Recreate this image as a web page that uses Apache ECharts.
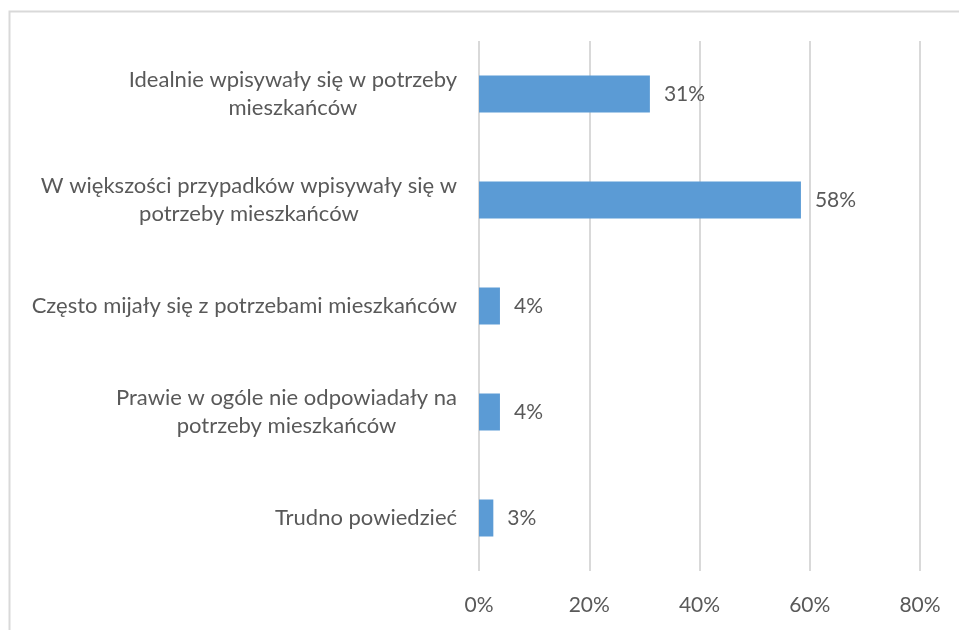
<!DOCTYPE html>
<html>
<head>
<meta charset="utf-8">
<script src="https://cdn.jsdelivr.net/npm/echarts@6/dist/echarts.min.js"></script>
<style>html,body{margin:0;padding:0;background:#fff}#c{width:959px;height:630px}</style>
</head>
<body>
<div id="c"></div>
<script>
const categories = [
  "Idealnie wpisywały się w potrzeby\nmieszkańców",
  "W większości przypadków wpisywały się w\npotrzeby mieszkańców",
  "Często mijały się z potrzebami mieszkańców",
  "Prawie w ogóle nie odpowiadały na\npotrzeby mieszkańców",
  "Trudno powiedzieć"
];
const values = [31.0, 58.4, 3.8, 3.8, 2.6];
const axisTicks = [0, 20, 40, 60, 80];

const FONT = 'Lato';
const TXT = '#595959';
const chart = echarts.init(document.getElementById('c'), null, {renderer: 'canvas'});
chart.setOption({
  animation: false,
  backgroundColor: '#fff',
  graphic: [{
    type: 'rect', silent: true, z: -1,
    shape: {x: 9.5, y: 11.5, width: 1200, height: 1200},
    style: {fill: 'none', stroke: '#d9d9d9', lineWidth: 2}
  }],
  grid: {left: 479, right: 39, top: 41, bottom: 59, containLabel: false},
  xAxis: {
    type: 'value', min: axisTicks[0], max: axisTicks[axisTicks.length - 1], interval: 20,
    axisLine: {show: false}, axisTick: {show: false},
    splitLine: {show: true, lineStyle: {color: '#d9d9d9', width: 2}},
    axisLabel: {formatter: v => v + '%', color: TXT, fontFamily: FONT, fontSize: 21, margin: 24}
  },
  yAxis: {
    type: 'category', inverse: true, data: categories,
    axisLine: {show: false}, axisTick: {show: false}, splitLine: {show: false},
    axisLabel: {
      margin: 22, color: TXT, fontFamily: FONT, fontSize: 22,
      formatter: v => v.split('\n').map(s => '{a|' + s + '}').join('\n'),
      rich: {a: {align: 'center', color: TXT, fontFamily: FONT, fontSize: 22, lineHeight: 28}}
    }
  },
  series: [{
    type: 'bar', data: values, barWidth: 37,
    itemStyle: {color: '#5b9bd5'},
    label: {show: true, position: 'right', distance: 14, color: TXT, fontFamily: FONT, fontSize: 21,
      formatter: p => Math.round(p.value) + '%'}
  }]
});
</script>
</body>
</html>
